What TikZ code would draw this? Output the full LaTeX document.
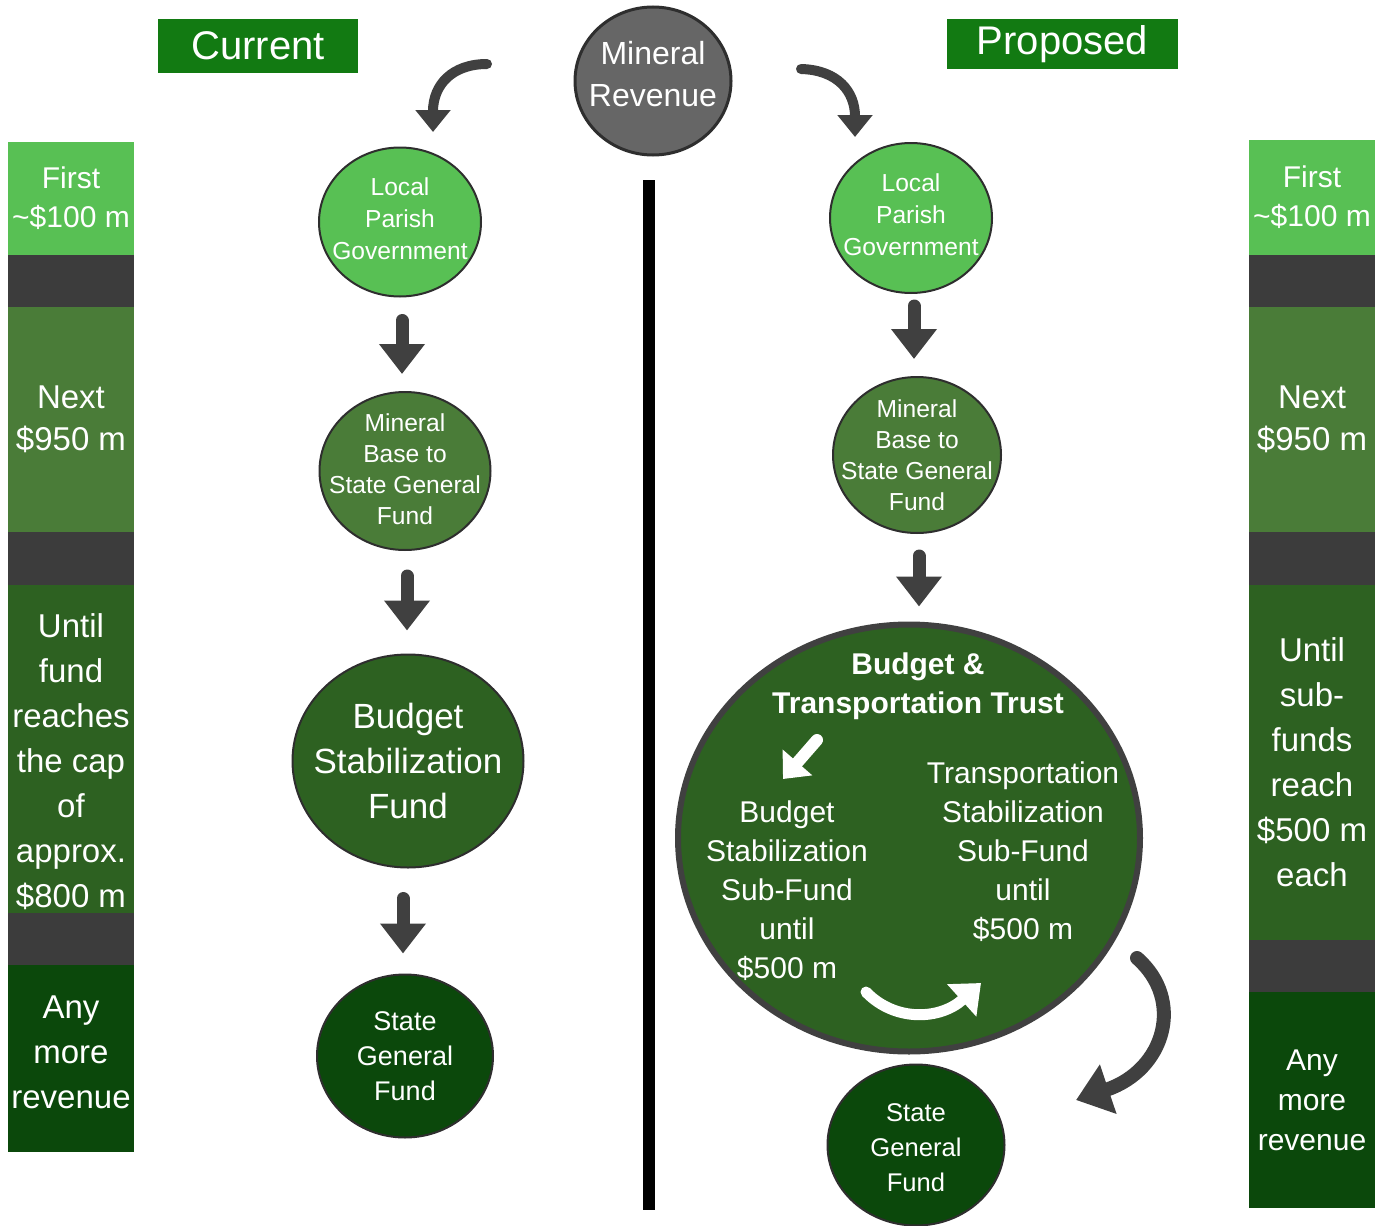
\documentclass[tikz,border=0pt]{standalone}
\usepackage{fontspec}
\setmainfont{Liberation Sans}
\usetikzlibrary{shapes.geometric,arrows.meta}

\definecolor{verdeclaro}{HTML}{58C054}
\definecolor{verdemedio}{HTML}{4A7C38}
\definecolor{verdeoscuro}{HTML}{2D6121}
\definecolor{verdeprofundo}{HTML}{0B480B}
\definecolor{verdecabecera}{HTML}{127A12}
\definecolor{gris}{HTML}{3C3C3C}
\definecolor{grisclaro}{HTML}{666666}
\definecolor{grisflecha}{HTML}{404040}
\definecolor{borde}{HTML}{2E2E2E}

\tikzset{
  banda/.style={rectangle, minimum width=63pt, inner sep=0pt, text=white, align=center},
  cabecera/.style={rectangle, fill=verdecabecera, inner sep=0pt, text=white, font=\fontsize{20}{24}\selectfont},
  fondo/.style={ellipse, inner sep=0pt, draw=borde, line width=1pt},
  texto/.style={text=white, align=center, inner sep=0pt},
  bajada/.style={draw=grisflecha, line width=6.5pt, line cap=round, -{Triangle[width=22pt,length=15pt]}},
  curva/.style={draw=grisflecha, line width=5pt, line cap=round, -{Triangle[width=17pt,length=11pt]}},
  curvagrande/.style={draw=grisflecha, line width=7pt, line cap=round, -{Triangle[width=25pt,length=17pt]}},
  blanca/.style={draw=white, line width=6pt, line cap=round, -{Triangle[width=19pt,length=11pt]}}
}

\begin{document}
\begin{tikzpicture}[x=0.5pt,y=-0.5pt]
\useasboundingbox (0,0) rectangle (1377,1226);

% Columnas laterales: fondo gris y bandas de color
\fill[gris] (8,142) rectangle (134,1152);
\fill[gris] (1249,140) rectangle (1375,1208);

\node[banda, fill=verdeclaro, minimum height=56.5pt, font=\fontsize{15}{19.5}\selectfont] (primeroI) at (71,198.5) {First\\\textasciitilde\$100 m};
\node[banda, fill=verdemedio, minimum height=112.5pt, font=\fontsize{16.5}{21}\selectfont] (siguienteI) at (71,419.5) {Next\\\$950 m};
\node[banda, fill=verdeoscuro, minimum height=164pt] (hastaI) at (71,749) {};
\node[texto, font=\fontsize{16.5}{22.5}\selectfont] (hastaIT) at (71,762) {Until\\fund\\reaches\\the cap\\of\\approx.\\\$800 m};
\node[banda, fill=verdeprofundo, minimum height=93.5pt] (restoI) at (71,1058.5) {};
\node[texto, font=\fontsize{16.5}{22.5}\selectfont] (restoIT) at (71,1052) {Any\\more\\revenue};

\node[banda, fill=verdeclaro, minimum height=57.5pt, font=\fontsize{15}{19.5}\selectfont] (primeroD) at (1312,197.5) {First\\\textasciitilde\$100 m};
\node[banda, fill=verdemedio, minimum height=112.5pt, font=\fontsize{16.5}{21}\selectfont] (siguienteD) at (1312,419.5) {Next\\\$950 m};
\node[banda, fill=verdeoscuro, minimum height=177.5pt, font=\fontsize{16.5}{22.5}\selectfont] (hastaD) at (1312,762.5) {Until\\sub-\\funds\\reach\\\$500 m\\each};
\node[banda, fill=verdeprofundo, minimum height=108pt, font=\fontsize{15}{20}\selectfont] (restoD) at (1312,1100) {Any\\more\\revenue};

% Cabeceras
\node[cabecera, minimum width=100pt, minimum height=27pt] (actual) at (258,46) {Current};
\node[cabecera, minimum width=115.5pt, minimum height=25pt] (propuesta) at (1062.5,44) {Proposed};

% Origen de los ingresos
\node[fondo, fill=grisclaro, draw=borde, line width=1.5pt, minimum width=78pt, minimum height=74pt] (mineral) at (653,81) {};
\node[texto, font=\fontsize{16}{21}\selectfont] (mineralT) at (653,74) {Mineral\\Revenue};

% Linea divisoria
\draw[line width=6pt] (649,180) -- (649,1210);

% Esquema actual
\node[fondo, fill=verdeclaro, minimum width=81pt, minimum height=74.5pt] (parroquiaI) at (400,222) {};
\node[texto, font=\fontsize{12.3}{16}\selectfont] (parroquiaIT) at (400,219) {Local\\Parish\\Government};
\node[fondo, fill=verdemedio, minimum width=85.5pt, minimum height=79pt] (baseI) at (405,471) {};
\node[texto, font=\fontsize{12.3}{15.5}\selectfont] (baseIT) at (405,469) {Mineral\\Base to\\State General\\Fund};
\node[fondo, fill=verdeoscuro, minimum width=115.5pt, minimum height=106.5pt] (estabilizacion) at (408,761) {};
\node[texto, font=\fontsize{17.5}{22.5}\selectfont] (estabilizacionT) at (estabilizacion) {Budget\\Stabilization\\Fund};
\node[fondo, fill=verdeprofundo, minimum width=88pt, minimum height=81.5pt] (generalI) at (405,1056) {};
\node[texto, font=\fontsize{13.5}{17.5}\selectfont] (generalIT) at (generalI) {State\\General\\Fund};

\draw[bajada, shorten <=11.5pt, shorten >=8.5pt] ([xshift=1pt]parroquiaI.south) -- ([xshift=1pt]parroquiaI.south |- baseI.north);
\draw[bajada, shorten <=12.5pt, shorten >=11.5pt] ([xshift=1pt]baseI.south) -- ([xshift=1pt]baseI.south |- estabilizacion.north);
\draw[bajada, shorten <=15pt, shorten >=10pt] ([xshift=-2.5pt]estabilizacion.south) -- ([xshift=-2.5pt]estabilizacion.south |- generalI.north);

% Esquema propuesto
\node[fondo, fill=verdeclaro, minimum width=81pt, minimum height=75pt] (parroquiaD) at (911,218) {};
\node[texto, font=\fontsize{12.3}{16}\selectfont] (parroquiaDT) at (911,215) {Local\\Parish\\Government};
\node[fondo, fill=verdemedio, minimum width=84pt, minimum height=78pt] (baseD) at (917,455) {};
\node[texto, font=\fontsize{12.3}{15.5}\selectfont] (baseDT) at (917,455) {Mineral\\Base to\\State General\\Fund};
\node[fondo, fill=verdeoscuro, draw=grisflecha, line width=3pt, minimum width=231pt, minimum height=213.5pt] (fideicomiso) at (909,838) {};
\node[fondo, fill=verdeprofundo, minimum width=88.5pt, minimum height=80.5pt] (generalD) at (916,1145) {};
\node[texto, font=\fontsize{12.8}{17.5}\selectfont] (generalDT) at (916,1148) {State\\General\\Fund};

\draw[bajada, shorten <=6pt, shorten >=8.5pt] ([xshift=1.5pt]parroquiaD.south) -- ([xshift=1.5pt]parroquiaD.south |- baseD.north);
\draw[bajada, shorten <=11pt, shorten >=7.5pt] ([xshift=1pt]baseD.south) -- ([xshift=1pt]baseD.south |- fideicomiso.north);

% Contenido del fideicomiso
\node[texto, font=\bfseries\fontsize{15}{19.5}\selectfont] (fideicomisoT) at (918,686) {Budget \&\\Transportation Trust};
\node[texto, font=\fontsize{15}{19.5}\selectfont] (presupuestoT) at (787,891) {Budget\\Stabilization\\Sub-Fund\\until\\\$500 m};
\node[texto, font=\fontsize{15}{19.5}\selectfont] (transporteT) at (1023,852) {Transportation\\Stabilization\\Sub-Fund\\until\\\$500 m};

\coordinate (flechaA) at (817,740);
\coordinate (flechaB) at (783,779);
\draw[blanca] (flechaA) -- (flechaB);
\coordinate (giroA) at (866,992);
\coordinate (giroB) at (981,983);
\draw[blanca, line width=5.5pt, -{Triangle[width=21pt,length=13pt]}] (giroA) .. controls (895,1022) and (940,1020) .. (giroB);

% Flechas curvas
\coordinate (salidaI) at (487,64);
\coordinate (llegadaI) at (433,132);
\draw[curva] (salidaI) .. controls (452,64) and (433,85) .. (llegadaI);
\coordinate (salidaD) at (801,69);
\coordinate (llegadaD) at (855,137);
\draw[curva] (salidaD) .. controls (838,70) and (855,92) .. (llegadaD);
\coordinate (salidaF) at (1137,958);
\coordinate (llegadaF) at (1076,1100);
\draw[curvagrande] (salidaF) .. controls (1185,1000) and (1165,1070) .. (llegadaF);
\end{tikzpicture}
\end{document}
